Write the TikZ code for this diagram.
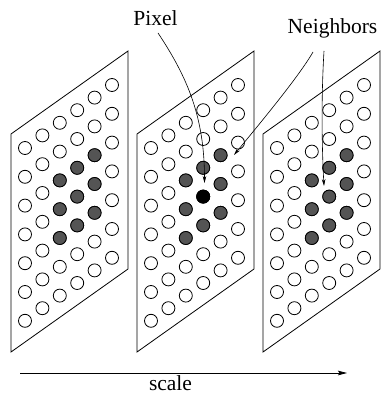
\documentclass[tikz,border=0pt]{standalone}
\usepackage{fontspec}
\setmainfont{Liberation Serif}
\usetikzlibrary{arrows.meta}
\begin{document}
\begin{tikzpicture}[x=1pt,y=-1pt,line width=0.8pt,
  panel/.style={draw=black},
  dot/.style={circle,draw=black,inner sep=0pt,minimum size=13pt,fill=white},
  nb/.style={dot,fill=black!67},
  px/.style={dot,fill=black},
  lbl/.style={font=\fontsize{21.5}{25}\selectfont,anchor=base,inner sep=0pt},
  conn/.style={line width=0.6pt,-{Stealth[length=7pt,width=3.6pt]}},
  axis/.style={line width=0.8pt,-{Stealth[length=9pt,width=4.6pt,inset=1.5pt]}}]
\useasboundingbox (0,0) rectangle (381,395);
\foreach \p in {0,1,2} {
  \draw[panel] ({11+126*\p},134) -- ({128+126*\p},51) -- ({128+126*\p},269) -- ({11+126*\p},352) -- cycle;
  \foreach \c in {0,...,5} {
    \foreach \r in {0,...,6} {
      \node[dot] (d\p-\c-\r) at ({25+17.4*\c+126*\p},{148-12.6*\c+28.8*\r}) {};
    }
  }
  \foreach \c in {2,3,4} {
    \foreach \r in {2,3,4} {
      \node[nb] (n\p-\c-\r) at ({25+17.4*\c+126*\p},{148-12.6*\c+28.8*\r}) {};
    }
  }
}
\node[px] (pix) at ({25+17.4*3+126},{148-12.6*3+28.8*3}) {};
% labels
\node[lbl] (pixel) at (155.5,26) {Pixel};
\node[lbl] (neigh) at (332.5,34) {Neighbors};
\node[lbl] (scale) at (170.5,390) {scale};
% connector end points
\coordinate (ps) at (158,33);
\coordinate (pt) at (204.5,183);
\coordinate (n1s) at (313,52);
\coordinate (n1t) at (234,155);
\coordinate (n2s) at (324,51);
\coordinate (n2t) at (324,186);
\coordinate (as) at (20,373);
\coordinate (at) at (347,373);
\draw[conn] (ps) .. controls (188,78) and (204.5,118) .. (pt);
\draw[conn] (n1s) .. controls (298,78) and (256,128) .. (n1t);
\draw[conn] (n2s) .. controls (321,100) and (322,150) .. (n2t);
\draw[axis] (as) -- (at);
\end{tikzpicture}
\end{document}
